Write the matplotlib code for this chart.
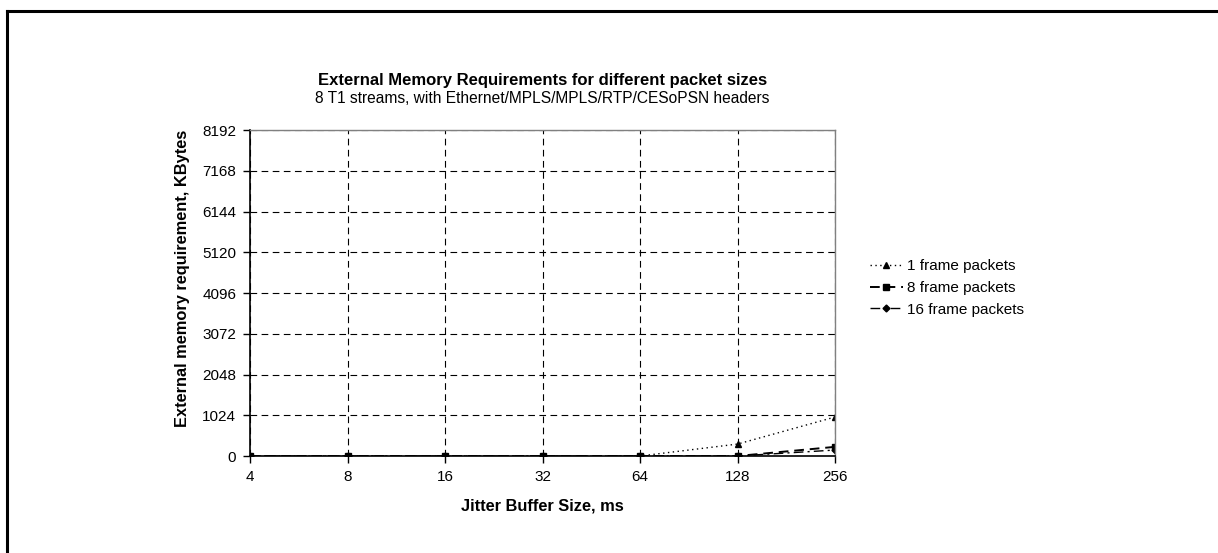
import matplotlib.pyplot as plt
import matplotlib
from matplotlib.lines import Line2D

matplotlib.rcParams['font.family'] = ['Liberation Sans', 'DejaVu Sans']

# Data
jitter_ms = ['4', '8', '16', '32', '64', '128', '256']
mem_1_frame = [0, 0, 0, 0, 0, 300, 980]
mem_8_frame = [0, 0, 0, 0, 0, 0, 230]
mem_16_frame = [0, 0, 0, 0, 0, 0, 150]
y_ticks = [0, 1024, 2048, 3072, 4096, 5120, 6144, 7168, 8192]

fig = plt.figure(figsize=(12.18, 5.53), dpi=100)
ax = fig.add_axes([0.2053, 0.1754, 0.4803, 0.5895])

x = list(range(len(jitter_ms)))
ax.plot(x, mem_1_frame, linestyle=(0, (1, 2.5)), color='black', linewidth=1,
        marker='^', markersize=5, label='1 frame packets')
ax.plot(x, mem_8_frame, linestyle=(0, (5, 3)), color='black', linewidth=1.4,
        marker='s', markersize=5, label='8 frame packets')
ax.plot(x, mem_16_frame, linestyle=(0, (7, 3, 1.5, 3)), color='black', linewidth=1,
        marker='D', markersize=3.5, label='16 frame packets')

ax.set_xlim(0, len(jitter_ms) - 1)
ax.set_ylim(0, 8192)
ax.set_xticks(x)
ax.set_xticklabels(jitter_ms, fontsize=11)
ax.set_yticks(y_ticks)
ax.set_yticklabels([str(v) for v in y_ticks], fontsize=11)
ax.tick_params(axis='both', direction='out', length=5, width=1, pad=5)

# grid
ax.grid(True, linestyle=(0, (6, 4)), color='black', linewidth=0.8)
ax.set_axisbelow(True)

for side in ['top', 'right']:
    ax.spines[side].set_color('gray')
    ax.spines[side].set_linewidth(1)
ax.spines['left'].set_linewidth(1.2)
ax.spines['bottom'].set_linewidth(1.2)

ax.set_xlabel('Jitter Buffer Size, ms', fontsize=11.8, fontweight='bold')
ax.set_ylabel('External memory requirement, KBytes', fontsize=11.8, fontweight='bold')
ax.xaxis.set_label_coords(0.5, -0.131)
ax.yaxis.set_label_coords(-0.103, 0.545)

fig.text(0.4455, 0.855, 'External Memory Requirements for different packet sizes',
         ha='center', va='center', fontsize=12, fontweight='bold')
fig.text(0.4455, 0.822, '8 T1 streams, with Ethernet/MPLS/MPLS/RTP/CESoPSN headers',
         ha='center', va='center', fontsize=11.2)

fig.legend(loc='center left', bbox_to_anchor=(870 / 1218, 1 - 288 / 553),
           frameon=False, fontsize=11, handlelength=2.15, handletextpad=0.3,
           labelspacing=0.51, borderpad=0, borderaxespad=0)

# outer frame (top and left edges visible)
fig.add_artist(Line2D([7 / 1218, 1], [1 - 11 / 553, 1 - 11 / 553],
                      transform=fig.transFigure, color='black', linewidth=2.2))
fig.add_artist(Line2D([7 / 1218, 7 / 1218], [0, 1 - 11 / 553],
                      transform=fig.transFigure, color='black', linewidth=2.2))

plt.savefig('out.png', dpi=100)
